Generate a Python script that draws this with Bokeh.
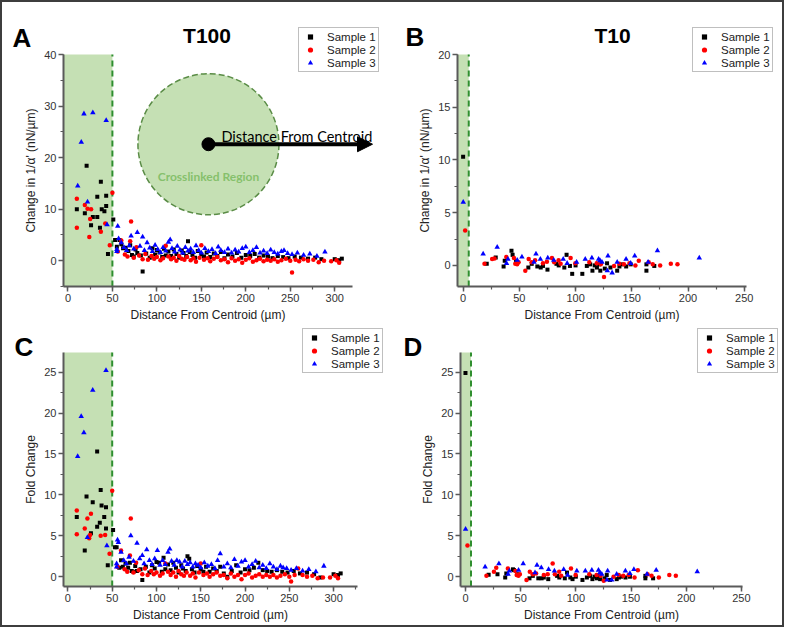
from bokeh.plotting import figure
from bokeh.models import (Range1d, SingleIntervalTicker, Legend, LegendItem,
                          BoxAnnotation, Label, Arrow, NormalHead)
from bokeh.layouts import row, column
from bokeh.embed import file_html
from bokeh.resources import INLINE

# ---------------- DATA ----------------
series_names = ["Sample 1", "Sample 2", "Sample 3"]
x_label = "Distance From Centroid (µm)"
y_label_change = "Change in 1/α' (nN/µm)"
y_label_fold = "Fold Change"
titles = ["T100", "T10"]
panel_letters = ["A", "B", "C", "D"]
crosslink_edge_t100 = 50
crosslink_edge_t10 = 5

# T100 sample 1 (black squares)
t100_s1_x = [10, 19, 21, 26, 28, 33, 33, 36, 37, 38, 41, 43, 43, 45, 51, 53,
             55, 58, 60, 62, 65, 68, 70, 72, 74, 76, 78, 82, 84, 88, 92, 95, 98, 100,
             103, 106, 108, 110, 113, 116, 119, 122, 125, 128, 130, 133, 135, 137, 140,
             143, 146, 150, 153, 156, 160, 164, 168, 172, 176, 180, 185, 190, 195, 200,
             205, 210, 215, 220, 225, 230, 236, 242, 248, 255, 262, 270, 278, 285, 300,
             305, 308]
t100_s1_change = [10.0, 9.2, 18.4, 6.9, 8.5, 12.4, 8.5, 6.4, 15.3, 10.0, 9.6, 12.6, 10.6, 1.3, 8.0, 4.0,
                  2.7, 4.0, 3.2, 2.4, 2.5, 1.9, 3.0, 1.1, 0.8, 2.2, 1.5, 1.0, -2.1, 1.4, 0.6, 2.4, 1.2, 2.1,
                  1.6, 0.7, 2.3, 1.0, 1.8, 0.9, 2.2, 1.3, 0.6, 2.0, 1.5, 0.9, 3.8, 1.7, 1.1,
                  0.6, 1.9, 1.2, 0.8, 1.6, 0.7, 1.4, 0.9, 1.7, 0.5, 1.2, 0.8, 1.5, 0.6, 1.1,
                  0.9, 1.3, 0.6, 1.0, 0.8, 0.5, 0.9, 0.7, 0.5, 0.8, 0.6, 0.4, 0.6, 0.3, 0.3,
                  0.1, 0.4]
t100_s1_fold = [7.3, 3.2, 9.8, 5.3, 9.1, 6.1, 15.3, 6.6, 10.6, 8.7, 7.3, 8.5, 5.9, 1.4, 5.7, 3.6,
                3.6, 1.1, 2.0, 1.2, 1.6, 1.1, 1.7, 0.7, 0.6, 1.3, 0.7, 0.9, -0.4, 1.2, 0.5, 1.4, 1.0, 1.8,
                1.7, 0.6, 2.3, 0.9, 1.5, 0.8, 1.7, 1.1, 0.5, 1.4, 1.0, 0.7, 2.5, 2.2, 0.9,
                0.5, 1.3, 0.9, 0.6, 1.2, 0.6, 1.0, 0.7, 1.2, 0.4, 0.0, 0.7, 1.4, 0.5, 0.9,
                0.8, 1.1, 1.7, 0.8, 0.7, 0.6, 0.8, 0.6, 0.5, 0.7, 0.4, 0.5, 0.3, -0.1, 0.3,
                0.2, 0.4]

# T100 sample 2 (red circles)
t100_s2_x = [10, 10, 19, 22, 24, 25, 26, 37, 42, 47, 50,
             56, 60, 64, 67, 70, 71, 74, 77, 80, 84, 87, 90, 94, 97, 100, 104, 107, 110,
             113, 116, 119, 122, 125, 128, 131, 134, 138, 141, 144, 148, 150, 153, 157, 160,
             164, 168, 172, 176, 180, 184, 188, 192, 196, 200, 204, 208, 212, 216, 220, 224,
             228, 232, 236, 240, 245, 250, 252, 256, 260, 265, 270, 276, 282, 288, 296, 302, 305]
t100_s2_change = [12.0, 6.4, 10.8, 10.1, 4.6, 8.1, 10.0, 5.6, 7.2, 3.0, 13.2,
                  1.8, 3.9, 1.2, 0.8, 3.8, 7.6, 0.6, 2.6, 1.0, 0.3, 1.3, 0.2, 0.9, 0.4, 0.7, 0.1, 0.5, 2.9,
                  0.8, 0.3, 0.6, 0.0, 0.9, 0.4, 0.2, 0.7, 0.1, 0.5, -0.2, 0.6, 3.0, 0.2, 0.5, -0.1,
                  0.4, 0.7, 0.1, 0.3, -0.3, 0.5, 0.0, 0.3, -0.4, 0.2, 0.5, -0.2, 0.1, 0.4, -0.1, 0.2,
                  0.0, 0.3, -0.2, 0.1, 0.4, 0.0, -2.3, 0.2, -0.1, 0.3, 0.0, 0.2, -0.3, 0.0, -0.1, 0.1, -0.4]
t100_s2_fold = [8.1, 5.2, 5.9, 7.1, 4.7, 5.1, 7.7, 5.0, 5.1, 2.8, 10.5,
                1.2, 3.2, 0.9, 0.6, 2.6, 7.1, 0.5, 1.7, 0.8, 0.3, 1.0, 0.2, 0.7, 0.3, 0.5, 0.1, 0.4, 1.6,
                0.6, 0.2, 0.5, 0.0, 0.7, 0.3, 0.1, 0.5, 0.1, 0.4, -0.1, 0.5, 1.6, 0.2, 0.4, 0.0,
                0.3, 0.5, 0.1, 0.2, -0.2, 0.4, 0.0, 0.2, -0.3, 0.2, 0.4, -0.1, 0.1, 0.3, 0.0, 0.2,
                0.0, 0.2, -0.1, 0.1, 0.3, 0.0, -0.6, 0.2, 1.0, 0.2, 0.0, 0.1, -0.2, -0.1, -0.1, 0.1, -0.2]

# T100 sample 3 (blue triangles)
t100_s3_x = [11, 15, 18, 22, 28, 43, 44,
             55, 55, 56, 57, 60, 63, 66, 69, 71, 74, 78, 81, 84, 86, 89, 92, 95, 98, 101, 104,
             107, 110, 113, 115, 117, 120, 123, 126, 129, 132, 135, 138, 141, 144, 147, 150,
             154, 158, 162, 166, 169, 172, 176, 180, 184, 188, 192, 196, 200, 204, 208, 212,
             216, 220, 224, 228, 232, 236, 240, 243, 247, 252, 258, 265, 272, 280, 289]
t100_s3_change = [14.5, 23.0, 28.5, 11.4, 28.7, 27.2, 7.0,
                  2.2, 1.8, 6.7, 4.3, 3.5, 2.6, 2.0, 2.9, 4.8, 2.3, 5.5, 2.8, 4.6, 2.0, 3.5, 2.5, 1.8, 3.0, 2.2, 1.6,
                  2.6, 1.9, 3.6, 4.1, 2.4, 1.7, 2.8, 2.1, 1.5, 2.6, 1.9, 2.3, 1.6, 2.9, 2.0, 1.5,
                  2.4, 1.8, 2.2, 1.4, 2.7, 2.0, 1.6, 2.3, 1.5, 2.1, 1.7, 2.4, 2.7, 1.6, 2.0, 2.6,
                  1.5, 1.9, 1.4, 2.1, 1.6, 1.3, 1.8, 2.0, 1.4, 1.2, 1.5, 1.1, 1.3, 0.9, 1.7]
t100_s3_fold = [14.7, 19.6, 17.6, 4.8, 22.8, 25.2, 3.8,
                1.6, 1.2, 4.5, 4.2, 3.0, 2.0, 1.6, 2.4, 5.0, 1.9, 4.1, 2.2, 2.6, 1.6, 3.3, 2.0, 1.5, 2.2, 3.2, 1.4,
                2.0, 1.5, 3.0, 3.4, 1.9, 1.4, 2.0, 1.8, 1.2, 1.9, 1.5, 1.7, 1.2, 1.6, 1.4, 1.1,
                1.7, 1.3, 1.5, 1.0, 2.0, 2.8, 1.2, 1.6, 1.1, 2.1, 1.3, 1.8, 2.0, 1.2, 1.5, 1.9,
                1.1, 1.4, 1.0, 1.6, 1.2, 0.9, 1.3, 1.1, 1.0, 0.8, 1.0, 0.7, 0.9, 0.6, 1.3]

# T10 sample 1
t10_s1_x = [0, 21, 29, 36, 37, 43, 44, 47, 58, 61, 66, 69, 71, 75, 83, 85, 90, 92, 95, 97,
            100, 106, 110, 113, 115, 117, 119, 121, 122, 126, 128, 131, 137, 139, 141, 145,
            149, 163, 163, 170]
t10_s1_change = [10.3, 0.15, 0.75, -0.1, 0.45, 1.4, 1.0, 0.4, -0.2, 0.15, -0.1, -0.2, -0.05, -0.4,
                 0.15, 0.0, -0.2, 1.0, -0.05, -0.8, 0.0, -0.8, -0.05, 0.1, -0.5, 0.0, -0.2, 0.1,
                 -0.5, -0.3, 0.2, -0.2, -0.5, -0.1, 0.1, -0.1, 0.1, -0.5, 0.1, -0.05]
t10_s1_fold = [24.9, 0.25, 0.3, -0.1, 0.4, 0.9, 0.8, 0.3, -0.2, 0.1, -0.2, -0.2, -0.1, -0.3, 0.1,
               -0.1, -0.2, 0.5, -0.1, -0.3, 0.0, -0.4, -0.1, 0.1, -0.3, 0.0, -0.2, 0.1, -0.3, -0.2,
               0.2, -0.4, -0.3, -0.1, 0.0, -0.1, 0.0, -0.2, 0.1, -0.2]

# T10 sample 2
t10_s2_x = [1.8, 19, 25.8, 27.9, 38.4, 45.2, 46.4, 48, 49.3, 55.3, 58.3, 61, 64, 71, 74.5, 79,
            81, 84.9, 86.7, 95.6, 99.8, 112.2, 118.8, 122.4, 125.3, 134.2, 138.9, 143, 147.9,
            153.2, 156.2, 165, 168.6, 175.2, 184.7, 190.6]
t10_s2_change = [3.3, 0.15, 0.6, 0.65, 0.8, 0.7, 0.15, 0.1, 0.3, -0.5, 0.6, 0.3, 0.5, 0.2, 0.35,
                 0.7, 0.3, 0.5, 0.15, 0.7, 0.2, 0.3, 0.2, 0.1, -1.1, -0.05, 0.15, 0.1, 0.2, 0.0,
                 0.45, 0.3, 0.1, 0.0, 0.15, 0.1]
t10_s2_fold = [3.8, 0.1, 0.6, 1.1, 1.0, 0.7, 0.2, 0.1, 0.3, -0.4, 0.6, 0.3, 0.4, 0.2, 0.3, 1.6,
               0.3, 0.6, 0.1, 1.0, 0.2, 0.3, 0.2, 0.1, -0.5, 0.0, 0.2, 0.1, 0.2, -0.1, 0.8, 0.3,
               0.1, -0.1, 0.2, 0.1]

# T10 sample 3
t10_s3_x = [0.1, 17.8, 30.3, 38.6, 39.8, 48.1, 52.3, 63, 64.8, 68.7, 75.3, 80.6, 89, 92.5,
            100.9, 108.6, 114.5, 120.5, 121.8, 123.5, 128.2, 128.8, 132.5, 137, 144.9, 149,
            152.6, 164.5, 172.8, 210]
t10_s3_change = [6.0, 1.1, 1.74, 0.2, 0.6, 0.5, 0.8, 0.3, 1.1, 0.6, 0.7, 0.5, 0.6, 0.2, 0.3, 0.6,
                 0.7, 0.6, 0.45, 0.3, -0.5, 0.9, -0.7, 0.3, 0.6, 0.2, 0.9, 0.3, 1.4, 0.7]
t10_s3_fold = [5.8, 1.2, 1.6, 0.3, 0.7, 0.8, 1.6, 0.5, 1.4, 1.1, 0.9, 0.7, 0.9, 0.2, 0.7, 0.7,
               0.8, 0.8, 0.5, 0.3, -0.4, 0.7, -0.4, 0.3, 0.7, 0.4, 0.9, 0.3, 0.8, 0.6]

# axis limits of each panel
limits_A = (-5, 320, -5, 40)
limits_B = (-5, 252, -2, 20)
limits_C = (-5, 327, -1.2, 27.4)
limits_D = (-4.5, 251, -1.2, 27.4)

# ---------------- STYLE ----------------
FONT = "Liberation Sans"
REGION_FILL = "#c5e0b4"
EDGE_COLOR = "#2f8f2f"
AXIS_COLOR = "#5a5a5a"
MARKERS = [("square", 4, "#000000"), ("circle", 4.5, "#ff0000"), ("triangle", 5.5, "#0000ff")]


def make_panel(size, axis_box, limits, xint, yint, ylab, series, edge, legend_loc,
               letter, letter_pos, title=None, title_pos=None):
    W, H = size
    L, R, T, B = axis_box            # pixel box of the axes inside the figure
    xlo, xhi, ylo, yhi = limits
    kx = (R - L) / (xhi - xlo)
    ky = (B - T) / (yhi - ylo)
    x0 = xlo - L / kx
    x1 = xlo + (W - L) / kx
    y1 = yhi + T / ky
    y0 = ylo - (H - B) / ky

    p = figure(width=W, height=H, x_range=Range1d(x0, x1), y_range=Range1d(y0, y1),
               min_border=0, title=None,
               output_backend="svg", toolbar_location=None, tools="")
    p.grid.visible = False
    p.outline_line_color = None
    p.background_fill_color = "white"
    p.border_fill_color = "white"

    p.xaxis.ticker = SingleIntervalTicker(interval=xint, num_minor_ticks=2)
    p.yaxis.ticker = SingleIntervalTicker(interval=yint, num_minor_ticks=2)
    p.xaxis.fixed_location = ylo
    p.yaxis.fixed_location = xlo
    p.xaxis.bounds = (xlo, xhi)
    p.yaxis.bounds = (ylo, yhi)
    for ax in (p.xaxis, p.yaxis):
        ax.axis_line_color = AXIS_COLOR
        ax.axis_line_width = 2
        ax.major_tick_line_color = AXIS_COLOR
        ax.minor_tick_line_color = AXIS_COLOR
        ax.major_tick_line_width = 1.5
        ax.minor_tick_line_width = 1.2
        ax.major_tick_out = 5
        ax.major_tick_in = 0
        ax.minor_tick_out = 3
        ax.minor_tick_in = 0
        ax.major_label_text_font = FONT
        ax.major_label_text_font_size = "11px"
        ax.major_label_text_color = "#333333"
        ax.major_label_standoff = 2
        ax.axis_label_text_font = FONT
        ax.axis_label_text_font_size = "12px"
        ax.axis_label_text_font_style = "normal"
        ax.axis_label_text_color = "#222222"
        ax.axis_label_standoff = 3
    p.xaxis.axis_label = x_label
    p.yaxis.axis_label = ylab

    p.add_layout(BoxAnnotation(left=xlo, right=edge, bottom=ylo, top=yhi,
                               fill_color=REGION_FILL, fill_alpha=1.0,
                               line_color=None, level="underlay"))
    p.segment(x0=[edge], y0=[ylo], x1=[edge], y1=[yhi], line_color=EDGE_COLOR,
              line_width=2, line_dash="6 4")

    items = []
    for (xs, ys), name, (mk, sz, col) in zip(series, series_names, MARKERS):
        r = p.scatter(xs, ys, marker=mk, size=sz, fill_color=col, line_color=None)
        items.append(LegendItem(label=name, renderers=[r]))

    leg = Legend(items=items, location=legend_loc, label_text_font=FONT,
                 label_text_font_size="11.5px", label_text_color="#222222",
                 glyph_width=18, glyph_height=13, label_height=13, label_standoff=8,
                 spacing=0, padding=2, margin=0, border_line_color="#7f7f7f",
                 border_line_width=1, background_fill_color="white", background_fill_alpha=1)
    p.add_layout(leg)

    p.add_layout(Label(x=letter_pos[0], y=letter_pos[1], x_units="screen", y_units="screen",
                       text=letter, text_font=FONT, text_font_size="26px",
                       text_font_style="bold", text_color="black", text_baseline="alphabetic"))
    if title:
        p.add_layout(Label(x=title_pos[0], y=title_pos[1], x_units="screen", y_units="screen",
                           text=title, text_font=FONT, text_font_size="21px",
                           text_font_style="bold", text_color="black", text_align="center",
                           text_baseline="alphabetic"))
    return p


pA = make_panel((398, 326), (61, 350, 52, 284), limits_A, 50, 10, y_label_change,
                [(t100_s1_x, t100_s1_change), (t100_s2_x, t100_s2_change), (t100_s3_x, t100_s3_change)],
                crosslink_edge_t100, (296, 256), panel_letters[0], (10, 291), titles[0], (204.5, 293.5))
pB = make_panel((382, 326), (57, 346, 52, 284), limits_B, 50, 5, y_label_change,
                [(t10_s1_x, t10_s1_change), (t10_s2_x, t10_s2_change), (t10_s3_x, t10_s3_change)],
                crosslink_edge_t10, (292, 256), panel_letters[1], (5, 292), titles[1], (212, 293))
pC = make_panel((398, 297), (61, 355, 24, 258), limits_C, 50, 5, y_label_fold,
                [(t100_s1_x, t100_s1_fold), (t100_s2_x, t100_s2_fold), (t100_s3_x, t100_s3_fold)],
                crosslink_edge_t100, (300, 252), panel_letters[2], (12, 279))
pD = make_panel((382, 297), (60, 342, 24, 258), limits_D, 50, 5, y_label_fold,
                [(t10_s1_x, t10_s1_fold), (t10_s2_x, t10_s2_fold), (t10_s3_x, t10_s3_fold)],
                crosslink_edge_t10, (297, 252), panel_letters[3], (3, 279))

# Schematic inset in panel A (positions in data space of panel A)
cx, cy = 158, 22.6
pA.scatter([cx], [cy], marker="circle", size=141, fill_color=REGION_FILL, line_color="#5a8c46",
           line_width=1.5, line_dash="6 3", level="underlay")
pA.add_layout(Arrow(end=NormalHead(size=15, fill_color="black", line_color="black"),
                    x_start=cx, y_start=cy, x_end=342.5, y_end=cy, line_width=4, line_color="black"))
pA.scatter([cx], [cy], marker="circle", size=13, fill_color="black", line_color="black")
pA.add_layout(Label(x=172.6, y=24.0, text="Distance From Centroid", text_font="Lato",
                    text_font_size="14.5px", text_color="black", text_baseline="alphabetic"))
pA.add_layout(Label(x=cx, y=16.4, text="Crosslinked Region", text_font="Lato",
                    text_font_size="12px", text_font_style="bold", text_color="#86c06c",
                    text_align="center", text_baseline="middle"))

layout = column(row(pA, pB), row(pC, pD), styles={"border": "2px solid #3d3d3d"})
open("out.html", "w").write(file_html(layout, INLINE))
